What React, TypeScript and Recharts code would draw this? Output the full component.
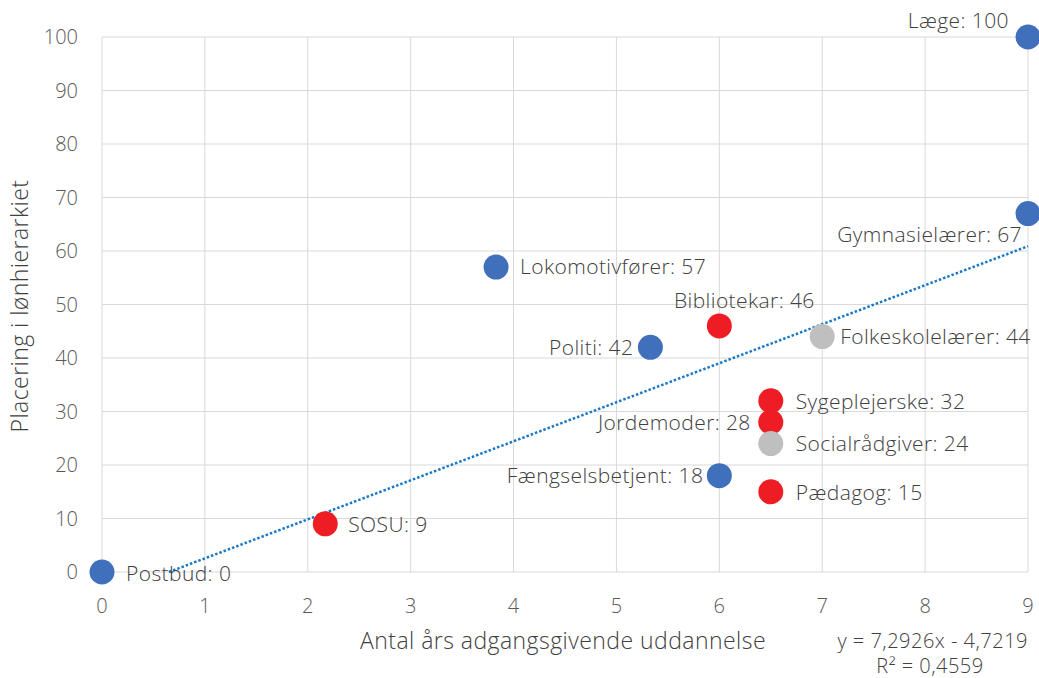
import { ScatterChart, Scatter, XAxis, YAxis, CartesianGrid } from 'recharts'

// data
const jobs = ['Postbud', 'SOSU', 'Lokomotivfører', 'Politi', 'Bibliotekar', 'Fængselsbetjent', 'Folkeskolelærer', 'Sygeplejerske', 'Jordemoder', 'Socialrådgiver', 'Pædagog', 'Gymnasielærer', 'Læge']
const years = [0, 2.17, 3.83, 5.33, 6, 6, 7, 6.5, 6.5, 6.5, 6.5, 9, 9]
const rank = [0, 9, 57, 42, 46, 18, 44, 32, 28, 24, 15, 67, 100]
const group = ['blue', 'red', 'blue', 'blue', 'red', 'blue', 'grey', 'red', 'red', 'grey', 'red', 'blue', 'blue']

// trendline end points (y = 7,2926x - 4,7219, clipped at y = 0)
const trendX = [0.65, 9]
const trendY = [0, 60.9]

const xTicks = [0, 1, 2, 3, 4, 5, 6, 7, 8, 9]
const yTicks = [0, 10, 20, 30, 40, 50, 60, 70, 80, 90, 100]

const COLOURS: Record<string, string> = { blue: '#4070BC', red: '#EE1D24', grey: '#BFBFBF' }

// where each data label sits relative to its marker
const LABEL_POS: Record<string, { anchor: 'start' | 'end' | 'middle'; dx: number; dy: number }> = {
  Postbud: { anchor: 'start', dx: 24, dy: 2 },
  SOSU: { anchor: 'start', dx: 23, dy: 1 },
  Lokomotivfører: { anchor: 'start', dx: 24, dy: 0 },
  Politi: { anchor: 'end', dx: -17, dy: 0 },
  Bibliotekar: { anchor: 'middle', dx: 25, dy: -25 },
  Fængselsbetjent: { anchor: 'end', dx: -16, dy: 0 },
  Folkeskolelærer: { anchor: 'start', dx: 18, dy: 0 },
  Sygeplejerske: { anchor: 'start', dx: 25, dy: 1 },
  Jordemoder: { anchor: 'end', dx: -20, dy: 0 },
  Socialrådgiver: { anchor: 'start', dx: 25, dy: 0 },
  Pædagog: { anchor: 'start', dx: 25, dy: 1 },
  Gymnasielærer: { anchor: 'end', dx: -6, dy: 21 },
  Læge: { anchor: 'end', dx: -19, dy: -16 },
}

const FONT = '"Open Sans", Lato, sans-serif'
const TEXT = '#404040'
const TICK = '#595959'

const points = jobs.map((name, i) => ({ name, x: years[i], y: rank[i], group: group[i] }))
const trend = trendX.map((x, i) => ({ x, y: trendY[i] }))

function Marker(props: any) {
  const { cx, cy, payload } = props
  const pos = LABEL_POS[payload.name]
  return (
    <g>
      <circle cx={cx} cy={cy} r={12.5} fill={COLOURS[payload.group]} />
      <text
        x={cx + pos.dx}
        y={cy + pos.dy}
        dy="0.35em"
        textAnchor={pos.anchor}
        fontFamily={FONT}
        fontWeight={300}
        fontSize={21}
        letterSpacing={0.4}
        fill={TEXT}
      >
        {payload.name}: {payload.y}
      </text>
    </g>
  )
}

export default function App() {
  return (
    <div style={{ position: 'absolute', left: 0, top: 0, width: 1039, height: 678, background: '#fff' }}>
      <ScatterChart width={1039} height={678} margin={{ top: 37, right: 11, bottom: 0, left: 0 }}>
        <CartesianGrid stroke="#D9D9D9" strokeWidth={1} />
        <XAxis
          type="number"
          dataKey="x"
          domain={[0, 9]}
          ticks={xTicks}
          height={106}
          axisLine={false}
          tickLine={false}
          tickSize={0}
          tick={(p: any) => (
            <text x={p.x} y={p.y} dy={39} textAnchor="middle" fontFamily={FONT} fontWeight={300} fontSize={20} fill={TICK}>
              {p.payload.value}
            </text>
          )}
        />
        <YAxis
          type="number"
          dataKey="y"
          domain={[0, 100]}
          ticks={yTicks}
          width={102}
          axisLine={false}
          tickLine={false}
          tickSize={0}
          tick={(p: any) => (
            <text x={p.x - 22} y={p.y} dy="0.35em" textAnchor="end" fontFamily={FONT} fontWeight={300} fontSize={20} fill={TICK}>
              {p.payload.value}
            </text>
          )}
        />
        <Scatter
          data={trend}
          isAnimationActive={false}
          line={{ stroke: '#1878C8', strokeWidth: 2.5, strokeDasharray: '2.5 2' }}
          shape={() => <g />}
        />
        <Scatter data={points} isAnimationActive={false} shape={(p: any) => <Marker {...p} />} />
      </ScatterChart>

      <svg width={1039} height={678} style={{ position: 'absolute', left: 0, top: 0, pointerEvents: 'none' }}>
        <text x={563} y={649} textAnchor="middle" fontFamily={FONT} fontWeight={300} fontSize={23} letterSpacing={0.45} fill={TEXT}>
          Antal års adgangsgivende uddannelse
        </text>
        <text transform="translate(28,306) rotate(-90)" textAnchor="middle" fontFamily={FONT} fontWeight={300} fontSize={23} letterSpacing={0.45} fill={TEXT}>
          Placering i lønhierarkiet
        </text>
        <text x={1028} y={648} textAnchor="end" fontFamily={FONT} fontWeight={300} fontSize={20} letterSpacing={0.5} fill={TEXT}>
          y = 7,2926x  - 4,7219
        </text>
        <text x={930} y={673} textAnchor="middle" fontFamily={FONT} fontWeight={300} fontSize={20} letterSpacing={0.5} fill={TEXT}>
          R² = 0,4559
        </text>
      </svg>
    </div>
  )
}
